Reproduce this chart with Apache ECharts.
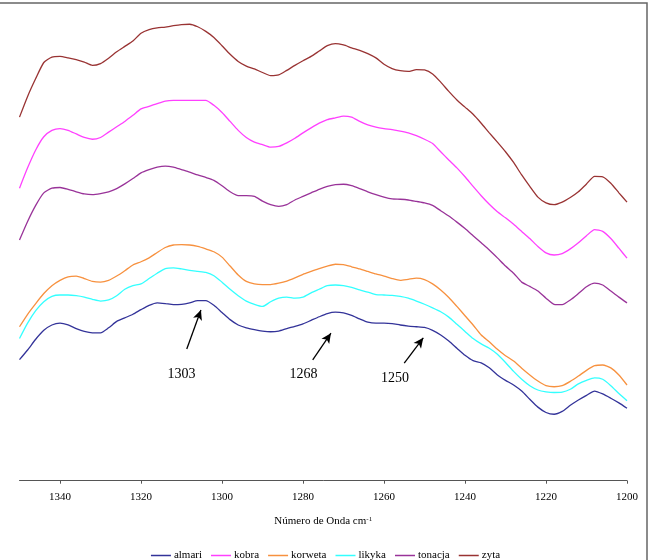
<!DOCTYPE html>
<html>
<head>
<meta charset="utf-8">
<script src="https://cdn.jsdelivr.net/npm/echarts@6/dist/echarts.min.js"></script>
<style>html,body{margin:0;padding:0;background:#fff}#c{width:651px;height:560px}</style>
</head>
<body>
<div id="c"></div>
<script>
// Wavenumbers (cm-1)
const wavenumbers = [1350,1348,1346,1344,1342,1340,1338,1336,1334,1332,1330,1328,1326,1324,1322,1320,1318,1316,1314,1312,1310,1308,1306,1304,1302,1300,1298,1296,1294,1292,1290,1288,1286,1284,1282,1280,1278,1276,1274,1272,1270,1268,1266,1264,1262,1260,1258,1256,1254,1252,1250,1248,1246,1244,1242,1240,1238,1236,1234,1232,1230,1228,1226,1224,1222,1220,1218,1216,1214,1212,1210,1208,1206,1204,1202,1200];
// Intensities (arbitrary units x1000, offset spectra)
const almari = [339,366,396,421,436,441,436,426,418,414,414,428,446,456,466,479,491,498,496,493,494,498,504,504,491,471,451,436,428,423,419,417,419,426,432,439,449,459,468,472,470,463,453,444,441,441,440,436,433,431,429,421,408,391,371,351,336,330,316,296,281,268,251,228,206,191,186,194,211,226,239,251,243,231,218,203];
const kobra = [819,876,926,963,981,986,981,971,961,956,961,976,991,1006,1023,1041,1048,1056,1063,1065,1065,1065,1065,1065,1051,1031,1006,981,961,948,941,934,936,946,959,974,988,1001,1011,1016,1021,1018,1006,996,990,986,983,979,974,966,956,944,921,898,876,851,824,798,774,753,736,718,698,678,656,638,632,636,649,666,686,703,698,678,651,623];
const korweta = [431,466,496,524,546,561,571,573,566,558,556,561,573,588,604,613,624,639,653,660,661,660,656,649,641,626,601,576,558,551,549,549,553,559,568,578,586,594,601,606,605,599,593,586,579,573,566,561,564,567,563,551,534,513,488,462,436,408,389,368,350,335,315,296,279,266,263,266,278,293,309,322,324,316,296,268];
const likyka = [398,441,476,501,516,520,520,518,514,508,503,506,518,536,546,551,566,581,594,596,593,589,586,583,574,556,536,518,503,494,488,501,511,514,511,514,526,536,546,548,546,541,534,528,521,520,519,516,511,503,494,484,473,458,438,418,398,383,371,354,331,306,284,266,254,249,247,248,256,271,281,288,284,266,244,224];
const tonacja = [674,726,771,806,819,821,816,809,803,801,804,809,818,831,846,862,871,878,881,878,871,864,856,849,841,826,809,798,798,796,783,773,768,773,786,796,806,816,824,829,830,826,818,809,801,794,789,788,786,782,778,771,756,741,724,706,686,666,646,624,601,581,556,544,531,511,494,493,506,524,543,553,548,531,514,498];
const zyta = [1018,1076,1126,1171,1186,1188,1184,1179,1172,1163,1168,1183,1201,1216,1231,1253,1263,1268,1270,1274,1277,1278,1271,1258,1241,1218,1194,1174,1161,1153,1143,1134,1136,1149,1163,1176,1188,1203,1218,1224,1220,1212,1205,1196,1184,1166,1154,1148,1146,1151,1150,1139,1116,1090,1066,1046,1026,1001,974,948,921,891,856,824,794,778,773,780,793,809,831,852,851,833,806,780];

const seriesNames = ['almari','kobra','korweta','likyka','tonacja','zyta'];
const seriesValues = [almari, kobra, korweta, likyka, tonacja, zyta];
const seriesColors = ['#333399','#ff40ff','#f7913f','#33ffff','#993399','#993333'];
const tickValues = [1340,1320,1300,1280,1260,1240,1220,1200];

// Annotations: label, arrow tail [x,y], arrow tip [x,y], label position [x,y]
const annLabels = ['1303','1268','1250'];
const annTails = [[1308.7,369],[1277.6,338],[1255.0,329]];
const annTips = [[1305.2,478],[1273.1,413],[1250.3,400]];
const annTextPos = [[1310.0,298],[1279.9,298],[1257.3,288]];

const FONT = 'Liberation Serif';
const chart = echarts.init(document.getElementById('c'));

const series = seriesNames.map((n, i) => ({
  name: n,
  type: 'line',
  data: wavenumbers.map((w, j) => [w, seriesValues[i][j]]),
  showSymbol: false,
  symbol: 'none',
  smooth: 0.2,
  lineStyle: { color: seriesColors[i], width: 1.3 },
  itemStyle: { color: seriesColors[i] },
  silent: true
}));

series[0].markLine = {
  silent: true,
  symbol: ['none', 'arrow'],
  symbolSize: [7, 10],
  label: { show: false },
  lineStyle: { color: '#000', width: 1.3, type: 'solid' },
  data: annTails.map((t, i) => [{ coord: t }, { coord: annTips[i] }])
};
series[0].markPoint = {
  silent: true,
  symbol: 'circle',
  symbolSize: 1,
  itemStyle: { color: 'rgba(0,0,0,0)' },
  label: { show: true, position: 'inside', formatter: '{b}', color: '#000', fontFamily: FONT, fontSize: 14 },
  data: annTextPos.map((p, i) => ({ coord: p, name: annLabels[i], value: 0 }))
};

chart.setOption({
  animation: false,
  backgroundColor: '#fff',
  grid: { left: 19.5, right: 24, top: 0.7, bottom: 79.3, containLabel: false },
  xAxis: {
    type: 'value',
    min: 1200, max: 1350, interval: 20,
    inverse: true,
    name: '{t|Número de Onda cm}{s|-1}',
    nameLocation: 'middle',
    nameGap: 35,
    nameTextStyle: {
      rich: {
        t: { fontFamily: FONT, fontSize: 11, color: '#000' },
        s: { fontFamily: FONT, fontSize: 7, color: '#000', verticalAlign: 'top' }
      }
    },
    axisLine: { show: true, lineStyle: { color: '#555', width: 1 } },
    axisTick: { show: true, length: 3, customValues: tickValues, lineStyle: { color: '#555' } },
    axisLabel: { customValues: tickValues, formatter: v => String(v), margin: 11, color: '#000', fontFamily: FONT, fontSize: 11 },
    splitLine: { show: false }
  },
  yAxis: { type: 'value', min: 0, max: 1344, show: false, splitLine: { show: false } },
  legend: {
    data: seriesNames,
    left: 'center',
    top: 545,
    icon: 'rect',
    itemWidth: 20,
    itemHeight: 1.5,
    itemGap: 9,
    textStyle: { fontFamily: FONT, fontSize: 11, color: '#000', padding: [0,0,0,-2] }
  },
  graphic: [{
    type: 'rect', silent: true,
    shape: { x: -2, y: 3, width: 649, height: 560 },
    style: { fill: 'none', stroke: '#666', lineWidth: 1.5 }
  }],
  series: series
});
</script>
</body>
</html>
